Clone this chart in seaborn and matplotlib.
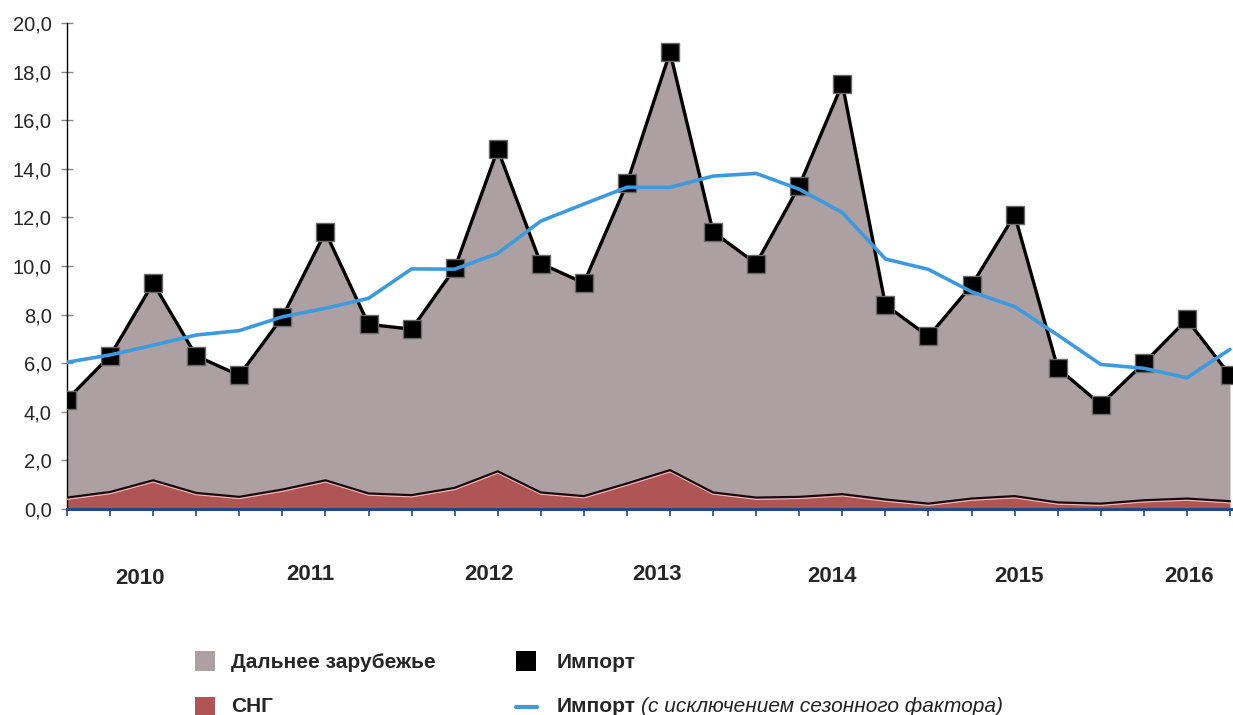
import numpy as np
import pandas as pd
import seaborn as sns
import matplotlib.pyplot as plt
from matplotlib.patches import Rectangle
from matplotlib.lines import Line2D
from matplotlib.ticker import FuncFormatter, FixedLocator

years = ["2010", "2011", "2012", "2013", "2014", "2015", "2016"]
quarters = ["I", "II", "III", "IV"]

# импорт всего (млрд долл.), поквартально 2010-2016
imp_total = [4.5, 6.3, 9.3, 6.3, 5.5, 7.9, 11.4, 7.6, 7.4, 9.9, 14.8, 10.1, 9.3, 13.4,
             18.8, 11.4, 10.1, 13.3, 17.5, 8.4, 7.1, 9.2, 12.1, 5.8, 4.3, 6.0, 7.8, 5.5]
# импорт из СНГ
imp_cis = [0.41, 0.64, 1.12, 0.60, 0.44, 0.74, 1.12, 0.58, 0.51, 0.81, 1.49, 0.62, 0.47, 0.99,
           1.54, 0.62, 0.41, 0.44, 0.55, 0.33, 0.16, 0.37, 0.47, 0.21, 0.16, 0.30, 0.37, 0.26]
# импорт с исключением сезонного фактора
imp_sa = [6.04, 6.34, 6.74, 7.16, 7.34, 7.91, 8.26, 8.67, 9.88, 9.87, 10.52, 11.85, 12.55, 13.24,
          13.24, 13.70, 13.81, 13.16, 12.20, 10.29, 9.86, 8.94, 8.33, 7.16, 5.95, 5.79, 5.40, 6.57]

df = pd.DataFrame({
    "t": np.arange(len(imp_total)),
    "period": [f"{y} {q}" for y in years for q in quarters],
    "Импорт": imp_total,
    "СНГ": imp_cis,
    "SA": imp_sa,
})

GRAY = "#ada0a2"
RED = "#b05555"
BLUE = "#3d9ade"
NAVY = "#1f4a86"

sns.set_style("white")
plt.rcParams["font.family"] = ["Liberation Sans", "DejaVu Sans"]

W, H = 1233, 715
fig = plt.figure(figsize=(W / 100, H / 100), dpi=100)
ax = fig.add_axes([67 / W, 1 - 509 / H, (W - 67) / W, 486 / H])

# области: СНГ снизу, дальнее зарубежье сверху
ax.fill_between(df["t"], df["СНГ"], df["Импорт"], color=GRAY, lw=0, zorder=1)
ax.fill_between(df["t"], 0, df["СНГ"], color=RED, lw=0, zorder=2)
ax.plot(df["t"], df["СНГ"], color="#f2b8b8", lw=1.2, zorder=3)
ax.plot(df["t"], df["СНГ"] + 0.06, color="#1a0a10", lw=1.6, zorder=3)

sns.lineplot(data=df, x="t", y="Импорт", ax=ax, color="black", lw=2.4,
             marker="s", markersize=12.5, markeredgecolor="#6a6a6a",
             markeredgewidth=1.0, zorder=5)
sns.lineplot(data=df, x="t", y="SA", ax=ax, color=BLUE, lw=2.6, zorder=6)

ax.set_xlim(0, (W - 67) / ((1230 - 67) / 27))
ax.set_ylim(0, 20)
ax.set_xlabel("")
ax.set_ylabel("")

ax.yaxis.set_major_locator(FixedLocator(np.arange(0, 21, 2)))
ax.yaxis.set_major_formatter(FuncFormatter(lambda v, p: f"{v:.1f}".replace(".", ",")))
ax.xaxis.set_major_locator(FixedLocator(df["t"]))
ax.set_xticklabels([])
ax.tick_params(axis="y", direction="inout", length=8, width=1, color="#888888",
               labelsize=14.5, pad=7, left=True)
ax.tick_params(axis="x", direction="out", length=5, width=1.2, color=NAVY, bottom=True)

for s in ["top", "right"]:
    ax.spines[s].set_visible(False)
ax.spines["left"].set_color("black")
ax.spines["left"].set_linewidth(1.0)
ax.spines["bottom"].set_color(NAVY)
ax.spines["bottom"].set_linewidth(2.2)
ax.spines["bottom"].set_zorder(7)

year_x = [1.7, 5.65, 9.8, 13.7, 17.75, 22.1, 26.05]
year_y = [578, 575, 575, 575, 576, 577, 577]
tr = ax.get_xaxis_transform()
for yx, yy, lab in zip(year_x, year_y, years):
    ax.text(yx, -(yy - 509) / 486, lab, transform=tr, ha="center", va="center",
            fontsize=16, fontweight="bold")

# легенда
def sq(x0, y0, color):
    fig.add_artist(Rectangle((x0 / W, 1 - (y0 + 20) / H), 20 / W, 20 / H,
                             transform=fig.transFigure, color=color, lw=0))

sq(195, 651, GRAY)
sq(195, 697, RED)
sq(516, 651, "black")
fig.add_artist(Line2D([516 / W, 537 / W], [1 - 707 / H, 1 - 707 / H],
                      transform=fig.transFigure, color=BLUE, lw=3))
fs = 15
fig.text(231 / W, 1 - 662 / H, "Дальнее зарубежье", fontsize=fs, fontweight="bold", va="center")
fig.text(231 / W, 1 - 706 / H, "СНГ", fontsize=fs, fontweight="bold", va="center")
fig.text(557 / W, 1 - 662 / H, "Импорт", fontsize=fs, fontweight="bold", va="center")
fig.text(557 / W, 1 - 707 / H, "Импорт", fontsize=fs, fontweight="bold", va="center")
fig.text(641 / W, 1 - 707 / H, "(с исключением сезонного фактора)", fontsize=fs,
         fontstyle="italic", va="center", color="#222222")

fig.savefig("out.png", dpi=100)
